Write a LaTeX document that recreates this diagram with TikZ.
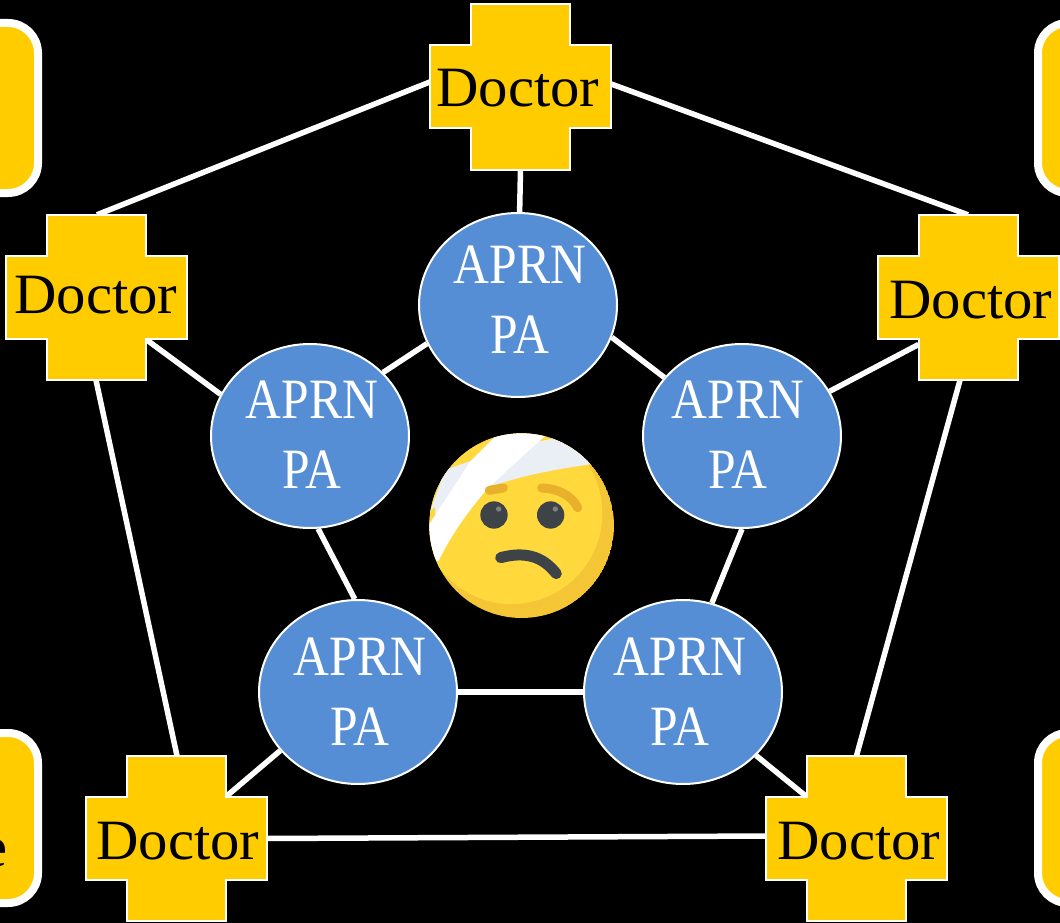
\documentclass[tikz,border=0pt]{standalone}
\usepackage{fontspec}
\usetikzlibrary{shapes.geometric}
\setmainfont{Liberation Serif}
\newfontfamily\docfont[FakeStretch=1.03]{Liberation Serif}
\newfontfamily\aprnfont[FakeStretch=0.87]{Liberation Serif}
\definecolor{gold}{HTML}{FFCC00}
\definecolor{bluefill}{HTML}{558ED5}
\definecolor{faceA}{HTML}{FFD93B}
\definecolor{faceB}{HTML}{F4C534}
\definecolor{bandgray}{HTML}{E9EFF4}
\definecolor{brow}{HTML}{E9B02C}
\definecolor{eyecol}{HTML}{3E4347}
\tikzset{
  link/.style={draw=white,line width=5.5pt},
  crossbox/.style={draw=none,rectangle,inner sep=0pt,minimum width=181pt,minimum height=165pt},
  crossline/.style={draw=white,line width=2pt,fill=gold},
  doctext/.style={text=black,inner sep=0pt,anchor=base,font=\docfont\fontsize{57}{60}\selectfont},
  aprnbub/.style={ellipse,draw=white,line width=2pt,fill=bluefill,inner sep=0pt,minimum width=198pt,minimum height=184pt},
  aprntext/.style={text=white,inner sep=0pt,align=center,font=\aprnfont\fontsize{57}{70}\selectfont},
  sidebox/.style={draw=white,line width=8pt,fill=gold,rounded corners=30pt},
}
% name, centre x, centre y, text x, text baseline
\newcommand{\doctorcross}[5]{%
  \draw[crossline] (#2-90.5,#3-41.5) -- (#2-49.5,#3-41.5) -- (#2-49.5,#3-82.5) -- (#2+49.5,#3-82.5)
    -- (#2+49.5,#3-41.5) -- (#2+90.5,#3-41.5) -- (#2+90.5,#3+41.5) -- (#2+49.5,#3+41.5)
    -- (#2+49.5,#3+82.5) -- (#2-49.5,#3+82.5) -- (#2-49.5,#3+41.5) -- (#2-90.5,#3+41.5) -- cycle;
  \node[crossbox] (#1) at (#2,#3) {};
  \node[doctext] (#1t) at (#4,#5) {Doctor};
}
% name, centre x, centre y, text x, first baseline
\newcommand{\aprnbubble}[5]{%
  \node[aprnbub] (#1) at (#2,#3) {};
  \node[aprntext] (#1t) at (#4,#5+54) {APRN\\PA};
}
\begin{document}
\begin{tikzpicture}[x=1pt,y=-1pt]
\useasboundingbox (0,0) rectangle (1060,923);
\clip (0,0) rectangle (1060,923);
\fill[black] (0,0) rectangle (1060,923);

% side boxes
\draw[sidebox] (-100,23) rectangle (38,193);
\draw[sidebox] (-100,733) rectangle (38,903);
\draw[sidebox] (1038,23) rectangle (1160,193);
\draw[sidebox] (1038,733) rectangle (1160,903);
\node[doctext,anchor=base east] (etail) at (8,866) {e};

% invisible anchors for connectors
\node[crossbox] (dT0) at (520.5,87) {};
\node[crossbox] (dL0) at (96,297.5) {};
\node[crossbox] (dR0) at (968,297.5) {};
\node[crossbox] (dA0) at (176,838.5) {};
\node[crossbox] (dB0) at (856.5,838.5) {};
\node[aprnbub,draw=none,fill=none] (cT0) at (518,305) {};
\node[aprnbub,draw=none,fill=none] (cL0) at (310,436) {};
\node[aprnbub,draw=none,fill=none] (cR0) at (742,436) {};
\node[aprnbub,draw=none,fill=none] (cA0) at (358,692) {};
\node[aprnbub,draw=none,fill=none] (cB0) at (683,692) {};

% outer ring
\draw[link] ([yshift=5pt]dT0.west) -- ([xshift=1pt]dL0.north);
\draw[link] ([yshift=3pt]dT0.east) -- (dR0.north);
\draw[link] (dL0.south) -- ([xshift=1pt]dA0.north);
\draw[link] ([xshift=-8pt]dR0.south) -- (dB0.north);
\draw[link] (dA0.east) -- ([yshift=2.5pt]dB0.west);
% spokes
\draw[link] (dT0.south) -- (cT0.89);
\draw[link] ([xshift=49.5pt,yshift=-41.5pt]dL0.center) -- (cL0.155);
\draw[link] ([xshift=-49.5pt,yshift=-47pt]dR0.center) -- (cR0.27);
\draw[link] ([xshift=49.5pt,yshift=41.5pt]dA0.center) -- (cA0.217);
\draw[link] ([xshift=-49.5pt,yshift=41.5pt]dB0.center) -- (cB0.-41.6);
% inner ring
\draw[link] (cT0.203) -- (cL0.41.6);
\draw[link] (cT0.-19.5) -- (cR0.143.6);
\draw[link] (cL0.-85) -- (cA0.92);
\draw[link] (cR0.-90) -- (cB0.72.5);
\draw[link] (cA0.0) -- (cB0.180);

% crosses
\doctorcross{dT}{520.5}{87}{518}{107}
\doctorcross{dL}{96}{297.5}{96}{313}
\doctorcross{dR}{968}{297.5}{971}{318}
\doctorcross{dA}{176}{838.5}{178}{859}
\doctorcross{dB}{856.5}{838.5}{859}{859}

% bubbles
\aprnbubble{cT}{518}{305}{520}{246}
\aprnbubble{cL}{310}{436}{312}{381}
\aprnbubble{cR}{742}{436}{738}{381}
\aprnbubble{cA}{358}{692}{360}{638}
\aprnbubble{cB}{683}{692}{680}{638}

% patient emoji (coordinates are 3x px from corner 410,420)
\begin{scope}[shift={(410,420)},x=0.3333pt,y=-0.3333pt]
  \clip (0,40) rectangle (660,660);
  \clip (335,317) circle [radius=277];
  \fill[faceB] (335,317) circle [radius=277];
  \fill[faceA] (305,280) circle [radius=272];
  \foreach \k in {-12,...,24}
    \draw[white,opacity=0.025,line width=2.5pt] (\k*40-100,660) -- (\k*40+560,0);
  \fill[bandgray] (60,275) -- (105,150) -- (190,120) -- (330,110) -- (385,65) -- (432,55)
     -- (500,80) -- (548,132) .. controls (420,150) and (320,170) .. (230,205) -- (60,300) -- cycle;
  \fill[faceA] (60,272) -- (75,262) -- (75,290) -- (60,300) -- cycle;
  \fill[white] (275,30) -- (425,30) .. controls (365,85) and (290,150) .. (225,215)
     .. controls (170,280) and (120,350) .. (85,425) -- (40,400) -- (50,325) -- (180,125) -- cycle;
  \draw[brow,line width=9pt,line cap=round] (238,211) -- (280,204);
  \draw[brow,line width=9pt,line cap=round] (395,204) .. controls (440,205) and (485,225) .. (503,263);
  \fill[eyecol] (252,285) circle [radius=41];
  \fill[eyecol] (422,285) circle [radius=41];
  \fill[gray] (266,267) circle [radius=8];
  \fill[gray] (436,267) circle [radius=8];
  \draw[eyecol,line width=11pt,line cap=round] (272,413) .. controls (340,395) and (395,405) .. (439,461);
\end{scope}
\end{tikzpicture}
\end{document}
